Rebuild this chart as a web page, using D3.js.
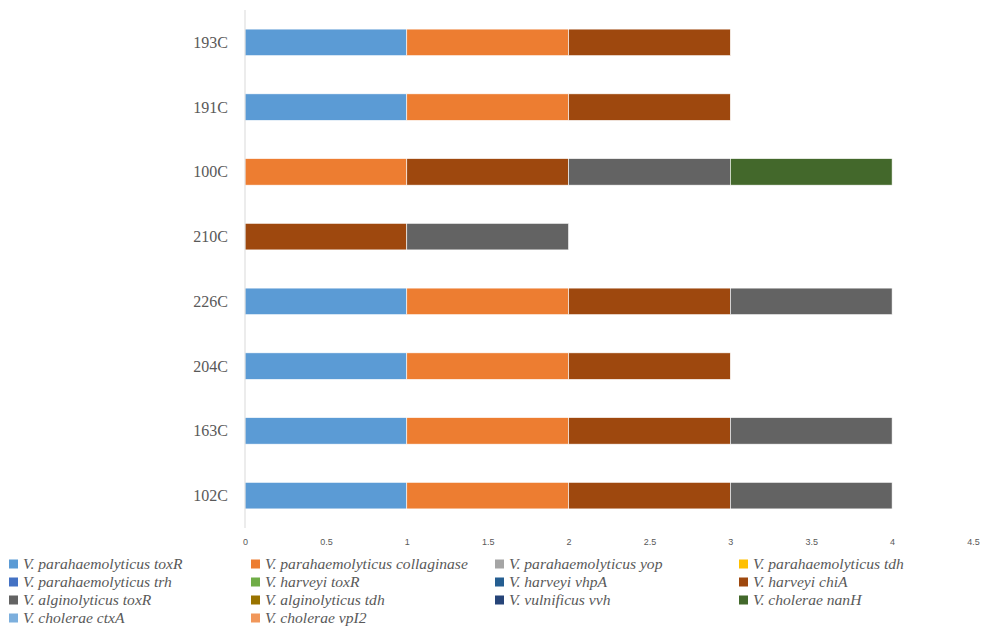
<!DOCTYPE html>
<html>
<head>
<meta charset="utf-8">
<script src="https://cdn.jsdelivr.net/npm/d3@7"></script>
<style>
  html, body { margin: 0; padding: 0; background: #fff; }
  svg { display: block; }
</style>
</head>
<body>
<svg id="chart" width="981" height="628"></svg>
<script>
// Isolates, listed top to bottom
const isolates = ["193C", "191C", "100C", "210C", "226C", "204C", "163C", "102C"];

// Virulence genes (stack order = legend order)
const genes = [
  "V. parahaemolyticus toxR", "V. parahaemolyticus collaginase", "V. parahaemolyticus yop", "V. parahaemolyticus tdh",
  "V. parahaemolyticus trh", "V. harveyi toxR", "V. harveyi vhpA", "V. harveyi chiA",
  "V. alginolyticus toxR", "V. alginolyticus tdh", "V. vulnificus vvh", "V. cholerae nanH",
  "V. cholerae ctxA", "V. cholerae vpI2"
];

const geneColors = [
  "#5B9BD5", "#ED7D31", "#A5A5A5", "#FFC000",
  "#4472C4", "#70AD47", "#255E91", "#9E480E",
  "#636363", "#997300", "#264478", "#43682B",
  "#7CAFDD", "#F1975A"
];

// Presence (1) / absence (0) of each gene, one array per gene, in isolate order
const vpToxR       = [1, 1, 0, 0, 1, 1, 1, 1];
const vpCollag     = [1, 1, 1, 0, 1, 1, 1, 1];
const vpYop        = [0, 0, 0, 0, 0, 0, 0, 0];
const vpTdh        = [0, 0, 0, 0, 0, 0, 0, 0];
const vpTrh        = [0, 0, 0, 0, 0, 0, 0, 0];
const vhToxR       = [0, 0, 0, 0, 0, 0, 0, 0];
const vhVhpA       = [0, 0, 0, 0, 0, 0, 0, 0];
const vhChiA       = [1, 1, 1, 1, 1, 1, 1, 1];
const vaToxR       = [0, 0, 1, 1, 1, 0, 1, 1];
const vaTdh        = [0, 0, 0, 0, 0, 0, 0, 0];
const vvVvh        = [0, 0, 0, 0, 0, 0, 0, 0];
const vcNanH       = [0, 0, 1, 0, 0, 0, 0, 0];
const vcCtxA       = [0, 0, 0, 0, 0, 0, 0, 0];
const vcVpI2       = [0, 0, 0, 0, 0, 0, 0, 0];

const seriesValues = [vpToxR, vpCollag, vpYop, vpTdh, vpTrh, vhToxR, vhVhpA, vhChiA,
                      vaToxR, vaTdh, vvVvh, vcNanH, vcCtxA, vcVpI2];

const xTicks = [0, 0.5, 1, 1.5, 2, 2.5, 3, 3.5, 4, 4.5];

// Build row objects for d3.stack
const rows = isolates.map((iso, i) => {
  const r = { isolate: iso };
  genes.forEach((g, j) => { r[g] = seriesValues[j][i]; });
  return r;
});

const svg = d3.select("#chart");
const plot = { left: 245, right: 973, top: 10, bottom: 528 };

const x = d3.scaleLinear().domain([0, 4.5]).range([plot.left, plot.right]);
const y = d3.scaleBand().domain(isolates).range([plot.top, plot.bottom]).paddingInner(0.59).paddingOuter(0.295);

const stack = d3.stack().keys(genes)(rows);

// Bars
svg.append("g").selectAll("g")
  .data(stack)
  .join("g")
  .attr("fill", (d, i) => geneColors[i])
  .selectAll("rect")
  .data(d => d.filter(s => s[1] - s[0] > 0))
  .join("rect")
  .attr("x", d => x(d[0]))
  .attr("y", d => y(d.data.isolate))
  .attr("width", d => x(d[1]) - x(d[0]))
  .attr("height", y.bandwidth())
  .attr("stroke", "#ffffff")
  .attr("stroke-width", 0.6);

// Vertical category axis line
svg.append("line")
  .attr("x1", plot.left).attr("x2", plot.left)
  .attr("y1", plot.top).attr("y2", plot.bottom)
  .attr("stroke", "#D9D9D9").attr("stroke-width", 1);

// Category labels
svg.append("g").selectAll("text")
  .data(isolates)
  .join("text")
  .attr("x", 228)
  .attr("y", d => y(d) + y.bandwidth() / 2)
  .attr("dy", "0.35em")
  .attr("text-anchor", "end")
  .attr("font-family", "'Liberation Serif', 'Times New Roman', serif")
  .attr("font-size", 16)
  .attr("fill", "#595959")
  .text(d => d);

// Value axis tick labels (no line)
const xAxis = d3.axisBottom(x).tickValues(xTicks).tickSize(0).tickPadding(0)
  .tickFormat(d3.format("~g"));
const gx = svg.append("g").attr("transform", `translate(0, ${plot.bottom + 11})`).call(xAxis);
gx.select(".domain").remove();
gx.selectAll("text")
  .attr("font-family", "'Liberation Sans', Arial, sans-serif")
  .attr("font-size", 9)
  .attr("fill", "#595959");

// Legend: 4 columns
const legCols = [9, 251, 495, 739];
const legRows = [564, 582, 600, 618];
const leg = svg.append("g").selectAll("g")
  .data(genes)
  .join("g")
  .attr("transform", (d, i) => `translate(${legCols[i % 4]}, ${legRows[Math.floor(i / 4)]})`);
leg.append("rect")
  .attr("x", 0).attr("y", -4.5).attr("width", 9).attr("height", 9)
  .attr("fill", (d, i) => geneColors[i]);
leg.append("text")
  .attr("x", 14).attr("y", 0).attr("dy", "0.35em")
  .attr("font-family", "'Liberation Serif', 'Times New Roman', serif")
  .attr("font-style", "italic")
  .attr("font-size", 15.6)
  .attr("fill", "#595959")
  .text(d => d);
</script>
</body>
</html>
